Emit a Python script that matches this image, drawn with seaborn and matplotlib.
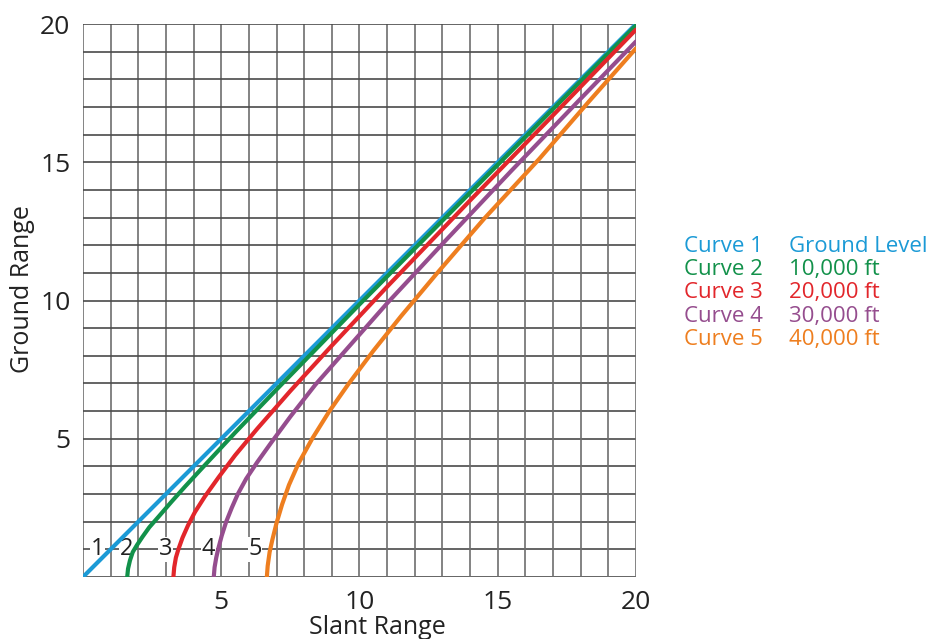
import matplotlib
matplotlib.use("Agg")
import matplotlib.pyplot as plt
import seaborn as sns
import pandas as pd

# --- data (slant range vs ground range) ---
curve_names = ["Curve 1", "Curve 2", "Curve 3", "Curve 4", "Curve 5"]
altitudes = ["Ground Level", "10,000 ft", "20,000 ft", "30,000 ft", "40,000 ft"]
curve_colors = ["#1b9ad6", "#12914a", "#e2262b", "#954d8e", "#ee7e1f"]

slant_1 = [0, 20]
ground_1 = [0, 20]

slant_2 = [1.6, 1.63, 1.7, 1.8, 1.95, 2.15, 2.4, 2.75, 3.2, 3.7, 4.3, 5.5, 7, 10, 14, 20]
ground_2 = [0, 0.3, 0.6, 0.9, 1.15, 1.45, 1.8, 2.2, 2.72, 3.28, 3.93, 5.22, 6.78, 9.86, 13.9, 19.95]

slant_3 = [3.27, 3.3, 3.36, 3.45, 3.6, 3.8, 4.05, 4.4, 4.9, 5.5, 6.3, 7.5, 9, 11, 14, 17, 20]
ground_3 = [0, 0.35, 0.7, 1.0, 1.42, 1.87, 2.35, 2.9, 3.6, 4.4, 5.36, 6.73, 8.37, 10.5, 13.62, 16.7, 19.8]

slant_4 = [4.73, 4.76, 4.82, 4.9, 5.02, 5.18, 5.38, 5.6, 5.9, 6.3, 6.8, 7.5, 8.4, 9.5, 11, 13, 15.5, 18, 20]
ground_4 = [0, 0.35, 0.7, 1.05, 1.5, 2.0, 2.5, 3.0, 3.55, 4.15, 4.85, 5.8, 6.95, 8.2, 9.9, 12.05, 14.7, 17.3, 19.37]

slant_5 = [6.65, 6.68, 6.75, 6.85, 7.0, 7.2, 7.45, 7.8, 8.3, 8.9, 9.6, 10.5, 11.5, 12.8, 14.5, 16.5, 18.3, 20]
ground_5 = [0, 0.4, 0.9, 1.35, 1.95, 2.62, 3.33, 4.12, 5.02, 5.98, 6.98, 8.18, 9.43, 10.98, 12.95, 15.12, 17.2, 19.12]

# small curve number labels near the bottom of each curve
label_x = [0.52, 1.57, 2.98, 4.54, 6.23]
label_text = ["1", "2", "3", "4", "5"]

ticks = [5, 10, 15, 20]

slants = [slant_1, slant_2, slant_3, slant_4, slant_5]
grounds = [ground_1, ground_2, ground_3, ground_4, ground_5]

sns.set_style("white")
plt.rcParams["font.family"] = ["Open Sans", "DejaVu Sans"]

fig = plt.figure(figsize=(9.46, 6.39), dpi=100)
ax = fig.add_axes([0.0877, 0.097, 0.5846, 0.8654])

# grid every 1 unit
for v in range(0, 21):
    ax.axvline(v, color="#6e6e6e", lw=1.2, zorder=1)
    ax.axhline(v, color="#4a4a4a", lw=1.2, zorder=1)

for i in range(len(curve_names)):
    df = pd.DataFrame({"slant": slants[i], "ground": grounds[i]})
    sns.lineplot(data=df, x="slant", y="ground", color=curve_colors[i],
                 lw=3, ax=ax, zorder=3, estimator=None, sort=False)

for x, t in zip(label_x, label_text):
    ax.text(x, 1, t, ha="center", va="center", fontsize=17, color="#222222",
            zorder=2, bbox=dict(facecolor="white", edgecolor="none", pad=0.3))

ax.set_xlim(0, 20)
ax.set_ylim(0, 20)
ax.set_xticks(ticks)
ax.set_yticks(ticks)
ax.tick_params(length=0, labelsize=19, colors="#222222", pad=9)
for s in ax.spines.values():
    s.set_visible(False)

ax.set_xlabel("Slant Range", fontsize=18, color="#222222")
ax.set_ylabel("Ground Range", fontsize=18, color="#222222")
ax.xaxis.set_label_coords(0.532, -0.068)
ax.yaxis.set_label_coords(-0.087, 0.52)

# legend as coloured text rows
row_y = [0.615, 0.578, 0.542, 0.505, 0.468]
for i in range(len(curve_names)):
    fig.text(0.723, row_y[i], curve_names[i], color=curve_colors[i],
             fontsize=16, va="center")
    fig.text(0.834, row_y[i], altitudes[i], color=curve_colors[i],
             fontsize=16, va="center")

plt.savefig("out.png", dpi=100)
